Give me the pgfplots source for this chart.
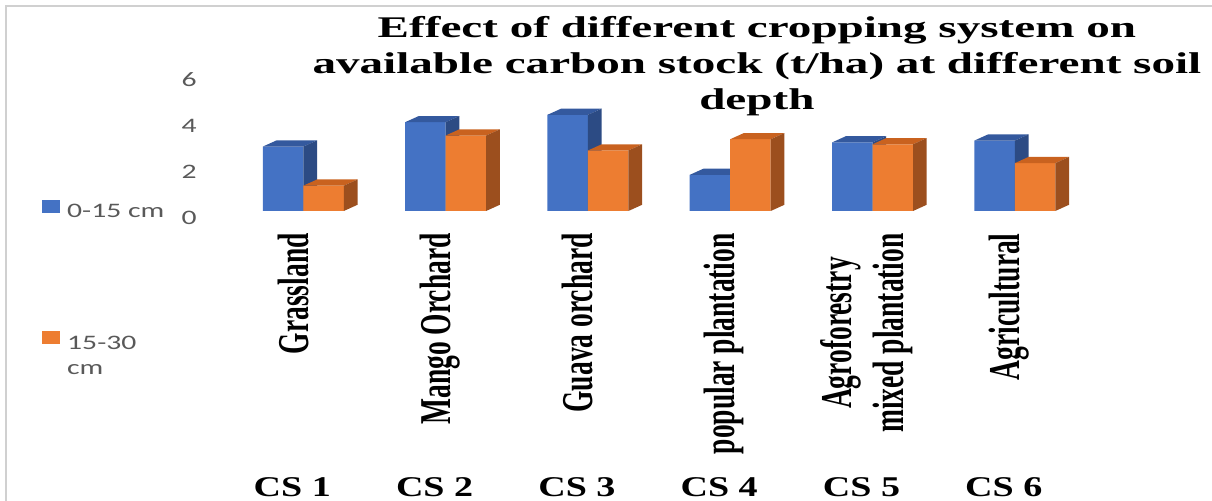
\documentclass[border=0pt]{standalone}
\usepackage{pgfplots}
\pgfplotsset{compat=1.18}
\usepackage{pgfplotstable}
\usepackage{fontspec}
\setmainfont{Liberation Serif}
\newfontfamily\catfont{Liberation Serif}[FakeStretch=0.625]
\newfontfamily\titlefont{Liberation Serif}[FakeStretch=1.57]
\newfontfamily\csfont{Liberation Serif}[FakeStretch=1.33]
\newfontfamily\lgfont{Carlito}[FakeStretch=1.44]
\definecolor{bluefront}{HTML}{4472C4}
\definecolor{bluetop}{HTML}{34599E}
\definecolor{blueside}{HTML}{2C4B84}
\definecolor{orangefront}{HTML}{ED7D31}
\definecolor{orangetop}{HTML}{C9621F}
\definecolor{orangeside}{HTML}{9C4F1E}
\definecolor{lbl}{HTML}{595959}
\definecolor{framegray}{HTML}{D0D0D0}

% 3D top and side faces of a column; mark sits at the top-right front corner
\pgfdeclareplotmark{cubeblue}{%
  \pgfmathsetmacro\cubeH{(\vy-0.3)*11.5}%
  \pgfpathmoveto{\pgfpoint{-20.25pt}{0pt}}%
  \pgfpathlineto{\pgfpoint{0pt}{0pt}}%
  \pgfpathlineto{\pgfpoint{6.85pt}{3.1pt}}%
  \pgfpathlineto{\pgfpoint{-13.4pt}{3.1pt}}%
  \pgfpathclose
  \pgfsetfillcolor{bluetop}\pgfusepath{fill}%
  \pgfpathmoveto{\pgfpoint{0pt}{0pt}}%
  \pgfpathlineto{\pgfpoint{6.85pt}{3.1pt}}%
  \pgfpathlineto{\pgfpoint{6.85pt}{3.1pt-\cubeH pt}}%
  \pgfpathlineto{\pgfpoint{0pt}{-\cubeH pt}}%
  \pgfpathclose
  \pgfsetfillcolor{blueside}\pgfusepath{fill}%
}
\pgfdeclareplotmark{cubeorange}{%
  \pgfmathsetmacro\cubeH{(\vy-0.3)*11.5}%
  \pgfpathmoveto{\pgfpoint{0pt}{0pt}}%
  \pgfpathlineto{\pgfpoint{20.25pt}{0pt}}%
  \pgfpathlineto{\pgfpoint{27.1pt}{3.1pt}}%
  \pgfpathlineto{\pgfpoint{6.85pt}{3.1pt}}%
  \pgfpathclose
  \pgfsetfillcolor{orangetop}\pgfusepath{fill}%
  \pgfpathmoveto{\pgfpoint{20.25pt}{0pt}}%
  \pgfpathlineto{\pgfpoint{27.1pt}{3.1pt}}%
  \pgfpathlineto{\pgfpoint{27.1pt}{3.1pt-\cubeH pt}}%
  \pgfpathlineto{\pgfpoint{20.25pt}{-\cubeH pt}}%
  \pgfpathclose
  \pgfsetfillcolor{orangeside}\pgfusepath{fill}%
}

\pgfplotstableread{
idx d1 d2
0 3.10 1.40
1 4.16 3.58
2 4.48 2.93
3 1.87 3.42
4 3.28 3.20
5 3.36 2.38
}\carbon

\begin{document}
\begin{tikzpicture}
\begin{scope}[x=0.5pt,y=0.5pt]
\path[use as bounding box] (-203.7,-290) rectangle (1008.3,211);
\fill[framegray] (-198.7,-290) rectangle (-196.2,206);
\fill[framegray] (-198.7,206) rectangle (1008.3,203.5);
\end{scope}
\begin{axis}[
  at={(0,0)}, anchor=south west,
  x=71.15pt, y=11.5pt,
  xmin=-0.7, xmax=5.9, ymin=0, ymax=6.5,
  y filter/.expression={y-0.3},
  axis line style={draw=none}, tick style={draw=none},
  clip marker paths=true,
  xtick={0,1,2,3,4,5},
  xticklabels={Grassland,Mango Orchard,Guava orchard,popular plantation,{\begin{tabular}{@{}c@{}}Agroforestry\\mixed plantation\end{tabular}},Agricultural},
  xticklabel style={yshift=-11pt, xshift=-2.75pt, rotate=90, anchor=east, inner sep=0pt, text height=15pt, text depth=4.8pt, font=\catfont\fontsize{22pt}{26pt}\selectfont\bfseries},
  extra x ticks={0,1,2,3,4,5},
  extra x tick labels={CS 1,CS 2,CS 3,CS 4,CS 5,CS 6},
  extra x tick style={every x tick label/.style={anchor=center, yshift=-138.25pt, xshift=-5.5pt, inner sep=0pt, font=\csfont\fontsize{14.3pt}{17pt}\selectfont\bfseries}},
  ytick={0,2,4,6}, yticklabels={0,2,4,6},
  yticklabel style={yshift=-3.5pt, font=\lgfont\fontsize{10.3pt}{12.5pt}\selectfont, text=lbl},
  title={Effect of different cropping system on\\available carbon stock (t/ha) at different soil\\depth},
  title style={at={(axis description cs:0.589,0.889)}, anchor=center, align=center, inner sep=0pt, font=\titlefont\fontsize{15pt}{18pt}\selectfont\bfseries},
  legend style={at={(axis description cs:-0.1722,0.078)}, anchor=north west, draw=none, fill=none, inner sep=0pt, row sep=55pt, column sep=3.5pt, nodes={inner sep=0pt, text=lbl}, font=\lgfont\fontsize{10.3pt}{12.5pt}\selectfont},
  legend cell align=left,
]
\addplot[ybar, bar width=20.25pt, bar shift=-10.125pt, fill=bluefront, draw=none, forget plot] table[x=idx, y=d1] {\carbon};
\addplot[only marks, mark=cubeblue, visualization depends on={rawy \as \vy}, forget plot] table[x=idx, y=d1] {\carbon};
\addplot[ybar, bar width=20.25pt, bar shift=10.125pt, fill=orangefront, draw=none, forget plot] table[x=idx, y=d2] {\carbon};
\addplot[only marks, mark=cubeorange, visualization depends on={rawy \as \vy}, forget plot] table[x=idx, y=d2] {\carbon};
\addlegendimage{legend image code/.code={\fill[bluefront] (0pt,0.3pt) rectangle (8.5pt,6.3pt);}}
\addlegendentry{0-15 cm}
\addlegendimage{legend image code/.code={\fill[orangefront] (0pt,0.3pt) rectangle (8.5pt,6.3pt);}}
\addlegendentry{\rlap{\raisebox{-12.5pt}[0pt][0pt]{cm}}15-30}
\end{axis}
\end{tikzpicture}
\end{document}
